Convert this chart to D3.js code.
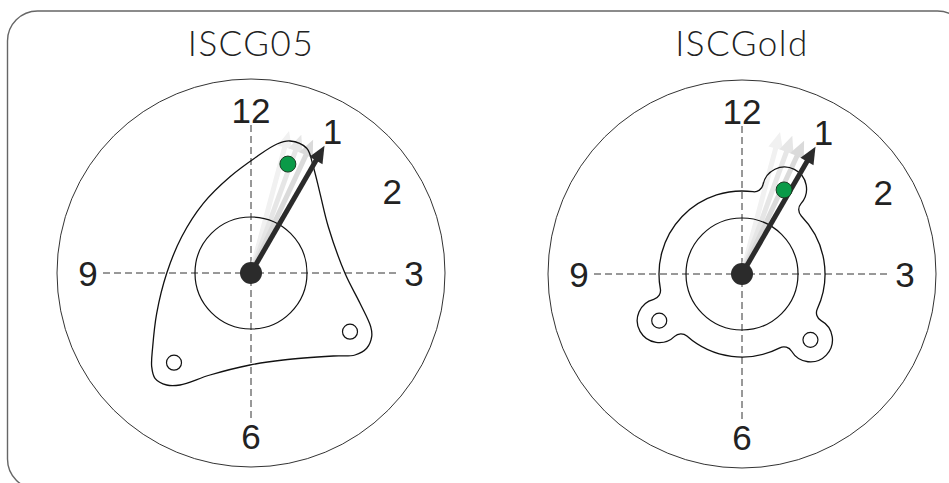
<!DOCTYPE html>
<html><head><meta charset="utf-8">
<script src="https://cdn.jsdelivr.net/npm/d3@7"></script>
<style>html,body{margin:0;padding:0;background:#fff;}svg{display:block;}</style>
</head><body>
<svg id="c" width="949" height="483"></svg>
<script>
// ---------- data ----------
const titles = ["ISCG05", "ISCGold"];
const hourLabels = [12, 1, 2, 3, 6, 9];
const arrowHour = [1, 1];                 // main arrow direction (clock hours)
const ghostHours = [0.5, 0.667, 0.833];   // faded previous arrow positions
const ghostShade = ["#f1f1f1", "#e6e6e6", "#dadada"];
const greenDotAngle = [18.7, 26.6];       // degrees clockwise from 12
const greenDotRadius = [115, 94];
// ISCG05 plate outline (offsets from hub, plate units)
const iscg05Outline = [
  [39,-132],[55.7,-124.7],[62.3,-106.3],[69,-79.7],[77.3,-46.3],[94,0.3],[109,30.3],
  [119.7,53.7],[120.7,63.7],[115.7,75.3],[104,82],[82.3,83],[32.3,87],[-1,92],
  [-41,102],[-71,112],[-84.3,112],[-96,105.3],[-99.3,93.7],[-98.3,73.7],[-94.3,40.3],
  [-84.3,0.3],[-69.3,-36.3],[-47.7,-69.7],[-21,-96.3],[5.7,-116.3],[26,-129]
];
const iscg05Holes = [[-77, 89.7], [99, 58.7]];
// ISCG old: ring with three bolt lobes
const iscgOldRing = 83, iscgOldBoltRadius = 95, iscgOldLobe = 22, iscgOldFillet = 9;
const iscgOldBoltAngles = [26.6, 133.9, 240.6];
const iscgOldHoles = [133.9, 240.6];
const holeRadius = 7.5;
const faceRadius = 194, bbRadius = 56, crossReach = 148, labelRadius = 163;
const arrowLength = 147, hubRadius = 11;

// ---------- scales ----------
const svg = d3.select("#c");
const cx = d3.scalePoint().domain(titles).range([251, 742]);
const cy = d3.scaleOrdinal().domain(titles).range([273, 274]);
const r = d3.scaleLinear().domain([0, 194]).range([0, 194]);
const hourToDeg = d3.scaleLinear().domain([0, 12]).range([0, 360]);
const pol = (deg, rad) => { const t = deg * Math.PI / 180; return [Math.sin(t) * r(rad), -Math.cos(t) * r(rad)]; };

// frame
svg.append("rect").attr("x", 7.5).attr("y", 11).attr("width", 960).attr("height", 478)
  .attr("rx", 30).attr("fill", "none").attr("stroke", "#666").attr("stroke-width", 1.4);

function oldPath() {
  const R = r(iscgOldRing), d = r(iscgOldBoltRadius), a = r(iscgOldLobe), f = r(iscgOldFillet);
  const cosB = ((R + f) ** 2 + d * d - (a + f) ** 2) / (2 * (R + f) * d);
  const beta = Math.acos(cosB) * 180 / Math.PI;
  const P = (deg, rad) => { const t = deg * Math.PI / 180; return [Math.sin(t) * rad, -Math.cos(t) * rad]; };
  const angs = iscgOldBoltAngles.slice().sort((x, y) => x - y);
  let s = "";
  angs.forEach((al, i) => {
    const L = P(al, d);
    const Ca = P(al - beta, R + f), Cb = P(al + beta, R + f);
    const Pa = P(al - beta, R), Pb = P(al + beta, R);
    const T = C => { const dx = C[0] - L[0], dy = C[1] - L[1], n = Math.hypot(dx, dy); return [L[0] + a * dx / n, L[1] + a * dy / n]; };
    const Ta = T(Ca), Tb = T(Cb);
    if (i === 0) s += `M${Pa}`; else s += `A${R},${R} 0 0 1 ${Pa}`;
    s += `A${f},${f} 0 0 0 ${Ta}A${a},${a} 0 1 1 ${Tb}A${f},${f} 0 0 0 ${Pb}`;
    if (i === angs.length - 1) {
      const first = P(angs[0] - beta, R);
      s += `A${R},${R} 0 0 1 ${first}Z`;
    }
  });
  return s;
}

titles.forEach((name, k) => {
  const g = svg.append("g").attr("transform", `translate(${cx(name)},${cy(name)})`);
  svg.append("text").attr("x", cx(name)).attr("y", 56).attr("text-anchor", "middle")
    .attr("font-family", "Lato, 'Open Sans', sans-serif").attr("font-weight", 300)
    .attr("font-size", 35).attr("letter-spacing", 1.5).attr("fill", "#222").text(name);

  g.append("circle").attr("r", r(faceRadius)).attr("fill", "none").attr("stroke", "#333").attr("stroke-width", 1);
  // crosshair
  g.append("line").attr("x1", -r(crossReach)).attr("x2", r(crossReach)).attr("y1", 0).attr("y2", 0)
    .attr("stroke", "#333").attr("stroke-width", 1).attr("stroke-dasharray", "7,4");
  g.append("line").attr("y1", -r(crossReach)).attr("y2", r(crossReach)).attr("x1", 0).attr("x2", 0)
    .attr("stroke", "#333").attr("stroke-width", 1).attr("stroke-dasharray", "7,4");
  // hour labels
  hourLabels.forEach(h => {
    const p = pol(hourToDeg(h), labelRadius);
    g.append("text").attr("x", p[0]).attr("y", p[1]).attr("text-anchor", "middle")
      .attr("dominant-baseline", "central").attr("font-family", "'Liberation Sans', Arial, sans-serif")
      .attr("font-size", 35).attr("fill", "#222").text(h);
  });

  // arrows
  const drawArrow = (hour, color) => {
    const deg = hourToDeg(hour);
    const L = r(arrowLength), head = 17, hw = 7.5;
    const a = g.append("g").attr("transform", `rotate(${deg})`);
    a.append("line").attr("x1", 0).attr("y1", 0).attr("x2", 0).attr("y2", -(L - head + 2))
      .attr("stroke", color).attr("stroke-width", 5);
    a.append("path").attr("d", `M0,${-L}L${hw},${-L + head}L${-hw},${-L + head}Z`).attr("fill", color);
  };
  ghostHours.forEach((h, i) => drawArrow(h, ghostShade[i]));

  // plate
  if (k === 0) {
    const line = d3.line().x(p => r(p[0])).y(p => r(p[1])).curve(d3.curveCatmullRomClosed.alpha(0.5));
    g.append("path").attr("d", line(iscg05Outline)).attr("fill", "none").attr("stroke", "#111").attr("stroke-width", 1.3);
    iscg05Holes.forEach(h => g.append("circle").attr("cx", r(h[0])).attr("cy", r(h[1])).attr("r", r(holeRadius))
      .attr("fill", "#fff").attr("stroke", "#111").attr("stroke-width", 1.2));
  } else {
    g.append("path").attr("d", oldPath()).attr("fill", "none").attr("stroke", "#111").attr("stroke-width", 1.3);
    iscgOldHoles.forEach(a => { const p = pol(a, iscgOldBoltRadius);
      g.append("circle").attr("cx", p[0]).attr("cy", p[1]).attr("r", r(holeRadius))
        .attr("fill", "#fff").attr("stroke", "#111").attr("stroke-width", 1.2); });
  }
  // bb shell
  g.append("circle").attr("r", r(bbRadius)).attr("fill", "none").attr("stroke", "#111").attr("stroke-width", 1.2);

  drawArrow(arrowHour[k], "#2b2b2b");
  g.append("circle").attr("r", r(hubRadius)).attr("fill", "#2b2b2b");
  // green dot
  const gp = pol(greenDotAngle[k], greenDotRadius[k]);
  g.append("circle").attr("cx", gp[0]).attr("cy", gp[1]).attr("r", 8).attr("fill", "#0a9a48")
    .attr("stroke", "#1a3a22").attr("stroke-width", 1);
});
</script>
</body></html>
